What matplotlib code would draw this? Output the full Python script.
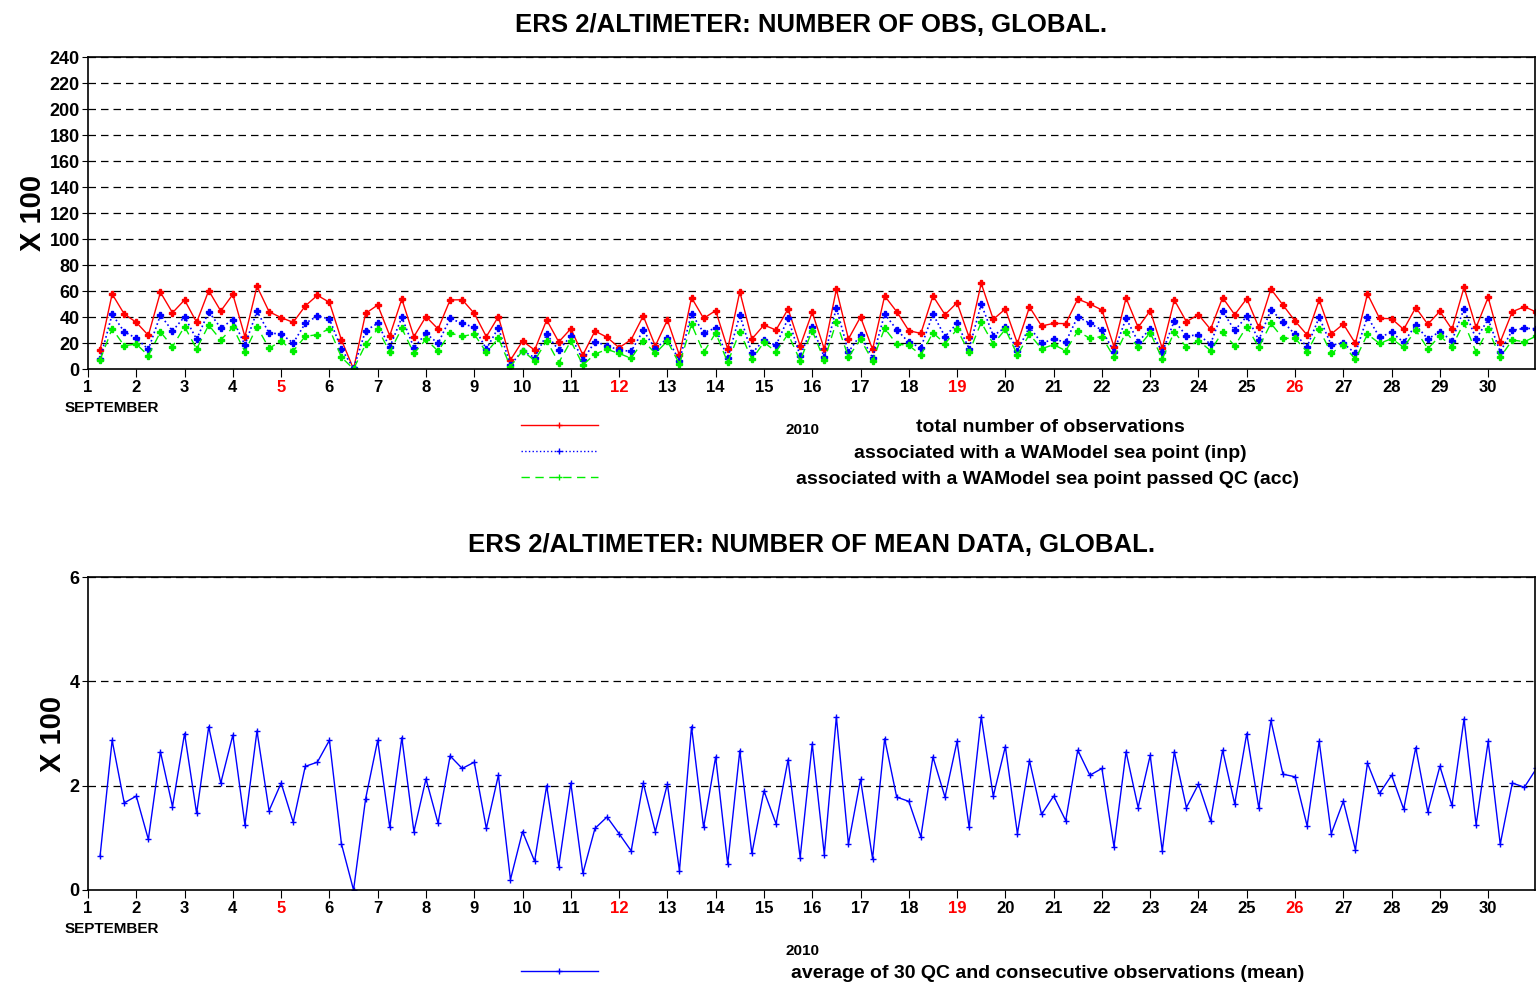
import numpy as np
import matplotlib.pyplot as plt
from matplotlib.lines import Line2D

plt.rcParams['font.family'] = ['Liberation Sans', 'DejaVu Sans']

# =============================================================================
# DATA (6-hourly, from 1.25 Sept to 31.0)
# =============================================================================

total_obs = [
    14.6, 57.7, 42.3, 35.9, 25.9, 59.0, 43.3, 53.1, 35.9, 60.3, 44.6, 57.4, 24.9, 63.6, 44.1, 39.5,
    35.9, 48.5, 56.7, 51.3, 22.3, 0.0, 42.8, 49.2, 25.6, 53.8, 24.9, 40.3, 30.8, 53.1, 53.3, 42.8,
    24.9, 40.3, 6.9, 21.5, 14.6, 37.7, 20.8, 31.0, 10.8,
    29.2, 24.4, 16.4, 22.6, 40.8, 17.7, 37.7, 10.5, 54.9, 39.0, 44.9, 15.4, 59.5, 23.1, 33.8, 30.0,
    46.2, 17.7, 43.6, 15.4, 61.3, 23.1, 40.0, 15.1, 56.2, 44.1, 29.5, 27.4, 56.2, 41.8, 51.0, 24.4,
    65.9, 38.2, 46.2, 19.7, 47.7, 33.1, 35.1, 34.9, 53.8,
    50.0, 45.4, 17.2, 54.6, 32.0, 44.9, 15.9, 53.1, 36.4, 41.8, 30.5, 54.9, 41.8, 54.1, 32.0, 61.5,
    49.2, 36.9, 26.2, 53.1, 26.9, 34.6, 19.7, 57.7, 39.0, 38.7, 30.5, 47.2, 34.4, 44.4, 30.5, 62.8,
    32.0, 55.1, 20.8, 44.1, 47.9, 43.8,
]
inp_obs = [
    7.7, 42.1, 28.7, 23.6, 15.1, 41.5, 29.2, 40.3, 22.8, 44.1, 31.5, 38.0, 18.5, 44.4, 27.7, 26.9,
    20.0, 35.1, 40.8, 38.5, 15.4, 0.5, 29.5, 35.1, 16.7, 39.7, 16.4, 27.4, 19.7, 38.9, 35.1, 32.0,
    15.4, 31.8, 3.1, 14.1, 8.7, 26.7, 14.4, 25.4, 6.9,
    21.0, 17.9, 14.6, 13.6, 29.7, 15.6, 23.6, 6.2, 42.6, 28.0, 31.5, 8.2, 41.5, 12.0, 22.3, 18.2,
    38.9, 10.0, 32.6, 9.0, 47.2, 13.1, 26.2, 8.5, 42.3, 30.3, 20.5, 16.4, 42.3, 24.9, 35.1, 15.6,
    50.0, 25.6, 32.0, 14.1, 32.3, 20.0, 22.8, 20.8, 40.3,
    35.1, 30.0, 13.3, 39.0, 21.0, 30.8, 12.8, 37.2, 25.4, 26.2, 19.2, 44.4, 29.7, 40.5, 22.3, 45.6,
    36.4, 26.7, 17.2, 39.7, 18.5, 19.7, 12.0, 40.3, 24.4, 28.2, 20.5, 33.8, 23.1, 28.7, 21.8, 46.2,
    23.1, 38.2, 13.3, 29.7, 31.3, 31.0,
]
acc_obs = [
    6.9, 31.0, 17.9, 19.2, 10.3, 28.5, 17.2, 32.6, 15.4, 33.8, 22.3, 32.0, 13.3, 32.6, 15.9, 21.5,
    13.8, 25.1, 26.4, 31.0, 9.0, 0.0, 19.0, 30.8, 13.1, 31.3, 12.0, 22.8, 13.8, 27.7, 25.1, 26.9,
    12.8, 23.6, 1.8, 14.1, 6.4, 21.8, 4.9, 21.5, 3.1,
    11.5, 15.1, 12.0, 8.2, 21.8, 12.0, 21.5, 3.8, 34.4, 12.8, 27.7, 5.1, 28.7, 7.4, 20.5, 13.3,
    26.9, 6.4, 29.5, 6.7, 36.2, 9.2, 22.8, 6.4, 31.3, 19.2, 18.2, 10.8, 27.9, 19.5, 30.5, 12.8,
    35.9, 19.2, 30.5, 10.8, 26.7, 15.6, 18.7, 14.1, 29.0,
    23.6, 24.9, 9.0, 28.5, 16.7, 27.9, 7.7, 28.5, 16.7, 21.8, 14.1, 28.5, 17.7, 32.6, 16.7, 35.1,
    23.6, 23.6, 13.1, 30.8, 12.0, 18.5, 7.4, 26.7, 19.7, 23.3, 16.7, 30.0, 15.6, 25.4, 17.2, 35.6,
    13.1, 30.5, 9.0, 22.3, 21.0, 25.4,
]
mean_data = [
    0.65, 2.87, 1.67, 1.80, 0.97, 2.65, 1.60, 3.00, 1.47, 3.13, 2.05, 2.97, 1.25, 3.05, 1.52, 2.05,
    1.30, 2.37, 2.45, 2.87, 0.88, 0.00, 1.75, 2.87, 1.20, 2.92, 1.12, 2.13, 1.28, 2.57, 2.33, 2.45,
    1.18, 2.20, 0.20, 1.12, 0.55, 2.00, 0.45, 2.05, 0.32, 1.18, 1.40, 1.08, 0.75, 2.05, 1.12, 2.03,
    0.37, 3.13, 1.20, 2.55, 0.50, 2.67, 0.70, 1.90, 1.27, 2.50, 0.62, 2.80, 0.68, 3.32, 0.88, 2.12,
    0.60, 2.90, 1.78, 1.70, 1.02, 2.55, 1.78, 2.85, 1.20, 3.32, 1.80, 2.75, 1.08, 2.48, 1.45, 1.80,
    1.33, 2.68, 2.20, 2.33, 0.83, 2.65, 1.58, 2.58, 0.75, 2.65, 1.58, 2.03, 1.33, 2.68, 1.65, 3.00,
    1.57, 3.25, 2.22, 2.17, 1.23, 2.85, 1.08, 1.70, 0.77, 2.43, 1.85, 2.20, 1.55, 2.73, 1.50, 2.37,
    1.62, 3.28, 1.25, 2.85, 0.88, 2.05, 1.97, 2.33,
]
days = list(range(1, 31))
sundays = [5, 12, 19, 26]

RED = "#ff0000"
BLUE = "#0000ff"
GREEN = "#00ee00"


def setup_axis(ax, yticks):
    ax.set_xlim(1, 30.97)
    ax.set_ylim(yticks[0], yticks[-1])
    ax.set_yticks(yticks)
    ax.set_yticklabels([str(t) for t in yticks], fontsize=13, fontweight="bold")
    for t in yticks[1:]:
        ax.axhline(t, color="black", linestyle=(0, (6, 4)), linewidth=0.9, zorder=0)
    ax.set_xticks(days)
    ax.set_xticklabels([str(d) for d in days], fontsize=12, fontweight="bold")
    for lab, d in zip(ax.get_xticklabels(), days):
        if d in sundays:
            lab.set_color("red")
    ax.tick_params(axis="x", direction="out", length=6, pad=2)
    ax.tick_params(axis="y", direction="out", length=4, pad=2)
    ax.set_ylabel("X 100", fontsize=21, fontweight="bold", labelpad=2)
    for s in ax.spines.values():
        s.set_linewidth(1.2)


def legend_line(fig, y, color, ls):
    fig.add_artist(Line2D([0.339, 0.389], [y, y], color=color, linestyle=ls,
                          linewidth=1, transform=fig.transFigure))
    fig.add_artist(Line2D([0.364], [y], color=color, marker="+", markersize=4,
                          transform=fig.transFigure))


fig = plt.figure(figsize=(15.36, 9.85), dpi=100)
W, H = 1536, 985
ax1 = fig.add_axes([88 / W, 1 - 369 / H, (1535 - 88) / W, (369 - 57) / H])
ax2 = fig.add_axes([88 / W, 1 - 890 / H, (1535 - 88) / W, (890 - 577) / H])

t1 = 1.25 + 0.25 * np.arange(len(total_obs))
t2 = 1.25 + 0.25 * np.arange(len(mean_data))

ax1.plot(t1, total_obs, color=RED, linestyle="-", linewidth=1, marker="P", markersize=4)
ax1.plot(t1, inp_obs, color=BLUE, linestyle=":", linewidth=1.2, marker="P", markersize=4)
ax1.plot(t1, acc_obs, color=GREEN, linestyle=(0, (6, 4)), linewidth=1, marker="P", markersize=4)
setup_axis(ax1, list(range(0, 241, 20)))
ax1.set_title("ERS 2/ALTIMETER: NUMBER OF OBS, GLOBAL.", fontsize=18.5, fontweight="bold", pad=18)

ax2.plot(t2, mean_data, color=BLUE, linestyle="-", linewidth=1, marker="+", markersize=4)
setup_axis(ax2, [0, 2, 4, 6])
ax2.set_title("ERS 2/ALTIMETER: NUMBER OF MEAN DATA, GLOBAL.", fontsize=18.5, fontweight="bold", pad=18)

# Annotations below the axes
fs = 11
for ytop in (408, 929):
    fig.text(112 / W, 1 - ytop / H, "SEPTEMBER", fontsize=fs, fontweight="bold", ha="center", va="center")
fig.text(802 / W, 1 - 430 / H, "2010", fontsize=fs, fontweight="bold", ha="center", va="center")
fig.text(802 / W, 1 - 951 / H, "2010", fontsize=fs, fontweight="bold", ha="center", va="center")

legend_line(fig, 1 - 425 / H, RED, "-")
legend_line(fig, 1 - 451 / H, BLUE, ":")
legend_line(fig, 1 - 477 / H, GREEN, (0, (6, 4)))
legend_line(fig, 1 - 971 / H, BLUE, "-")
fig.text(1050 / W, 1 - 427 / H, "total number of observations", fontsize=14, fontweight="bold", ha="center", va="center")
fig.text(1050 / W, 1 - 453 / H, "associated with a WAModel sea point (inp)", fontsize=14, fontweight="bold", ha="center", va="center")
fig.text(1048 / W, 1 - 479 / H, "associated with a WAModel sea point passed QC (acc)", fontsize=14, fontweight="bold", ha="center", va="center")
fig.text(1048 / W, 1 - 973 / H, "average of 30 QC and consecutive observations (mean)", fontsize=14, fontweight="bold", ha="center", va="center")

fig.savefig("out.png", dpi=100)
